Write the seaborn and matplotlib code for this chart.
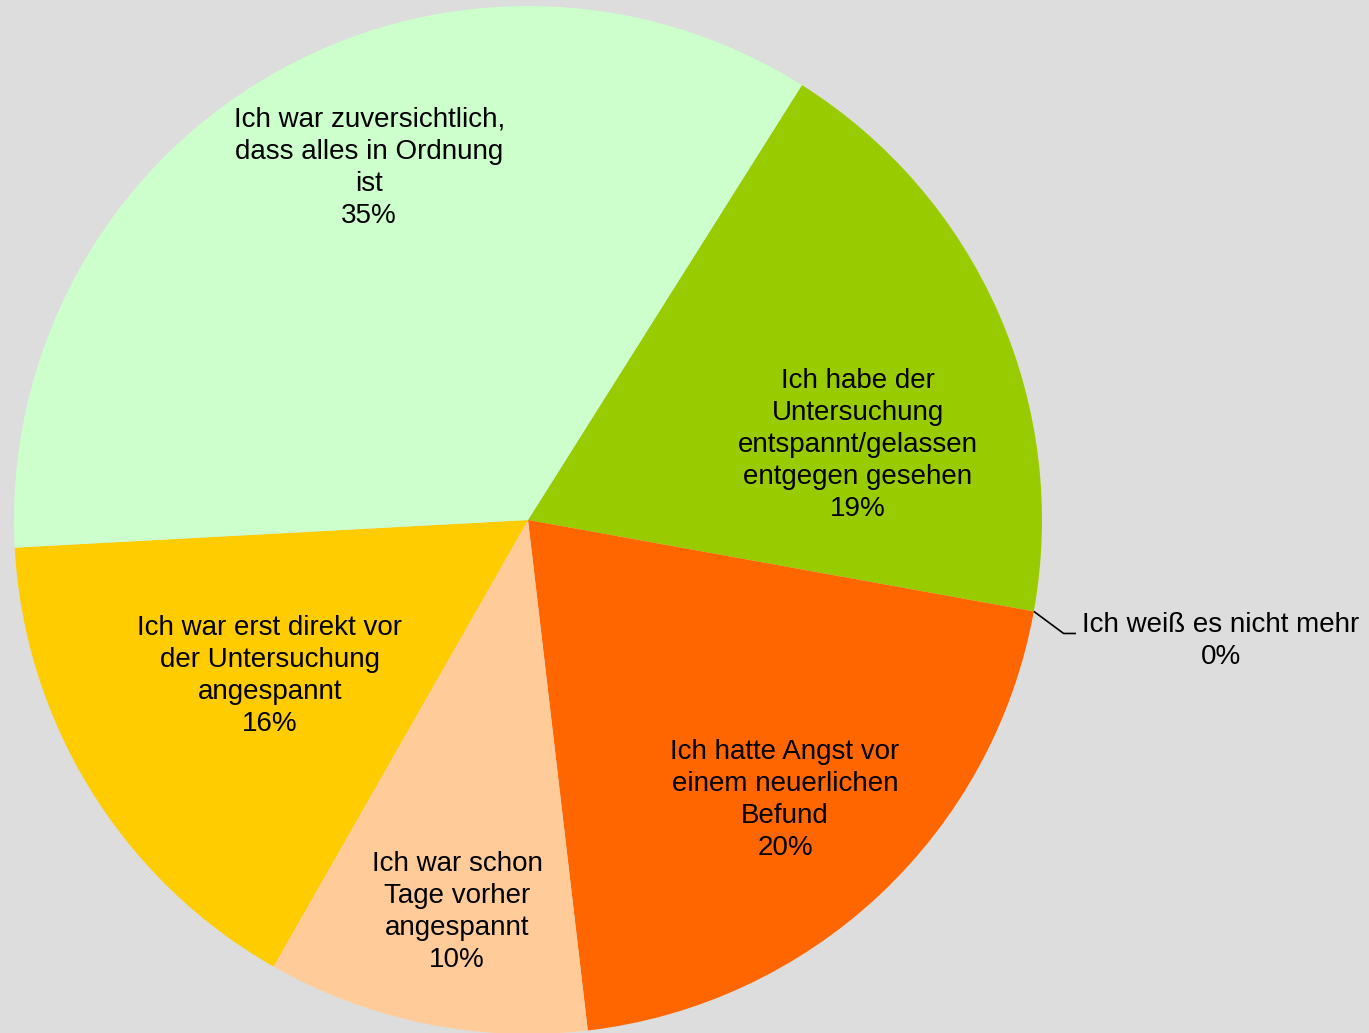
import matplotlib
matplotlib.use('Agg')
import numpy as np
import seaborn as sns
from matplotlib import pyplot as plt

# Answers (clockwise from the first slice) and their shares in percent
categories = [
    'Ich habe der\nUntersuchung\nentspannt/gelassen\nentgegen gesehen',
    'Ich weiß es nicht mehr',
    'Ich hatte Angst vor\neinem neuerlichen\nBefund',
    'Ich war schon\nTage vorher\nangespannt',
    'Ich war erst direkt vor\nder Untersuchung\nangespannt',
    'Ich war zuversichtlich,\ndass alles in Ordnung\nist',
]
shares = [18.9, 0.0, 20.3, 10.1, 15.9, 34.8]
colors = ['#99CC00', '#3366FF', '#FF6600', '#FFCC99', '#FFCC00', '#CCFFCC']

# label placement (x, y in pie radius units) - layout only
label_pos = [(0.642, 0.146), (1.348, -0.236), (0.5, -0.545),
             (-0.138, -0.763), (-0.502, -0.304), (-0.309, 0.685)]

sns.set_theme(style='white')
plt.rcParams['font.family'] = ['Liberation Sans', 'DejaVu Sans']

fig = plt.figure(figsize=(13.69, 10.33), dpi=100)
fig.patch.set_facecolor('#DDDDDD')
ax = fig.add_axes([0, 0, 1, 1])
ax.set_facecolor('#DDDDDD')

wedges, _ = ax.pie(shares, colors=colors, startangle=90 - 32.2,
                   counterclock=False, radius=1.0,
                   wedgeprops=dict(linewidth=0, antialiased=True))

total = sum(shares)
for cat, val, (lx, ly) in zip(categories, shares, label_pos):
    txt = f'{cat}\n{round(val / total * 100):.0f}%'
    ax.text(lx, ly, txt, ha='center', va='center', fontsize=20,
            linespacing=1.3, color='black')

# leader line for the empty slice
w = wedges[1]
ang = np.deg2rad(w.theta1)
x0, y0 = np.cos(ang), np.sin(ang)
ax.plot([x0, x0 + 0.058, x0 + 0.082], [y0, y0 - 0.043, y0 - 0.043],
        color='black', lw=1.2, solid_capstyle='butt')

cx, cy, r = 528, 520, 514
ax.set_xlim(-cx / r, (1369 - cx) / r)
ax.set_ylim((cy - 1033) / r, cy / r)
ax.set_aspect('auto')
ax.axis('off')

fig.savefig('out.png', dpi=100, facecolor=fig.get_facecolor())
